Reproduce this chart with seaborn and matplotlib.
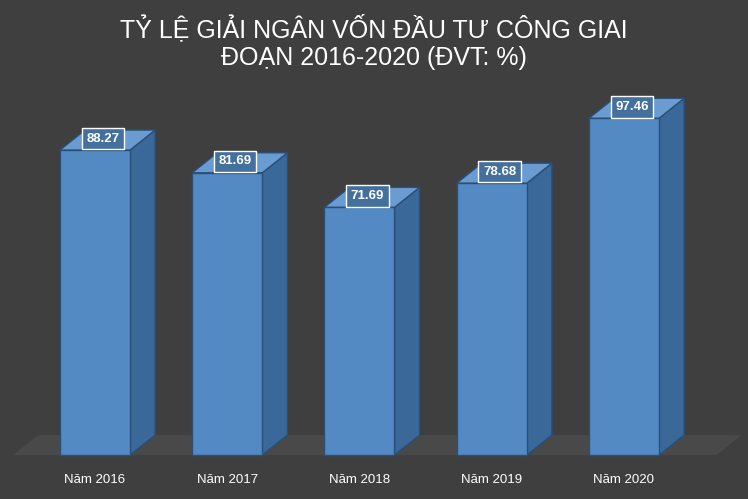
import matplotlib
matplotlib.use("Agg")
import matplotlib.pyplot as plt
import seaborn as sns
import pandas as pd
from matplotlib.patches import Polygon

years = ["Năm 2016", "Năm 2017", "Năm 2018", "Năm 2019", "Năm 2020"]
rates = [88.27, 81.69, 71.69, 78.68, 97.46]
title = "TỶ LỆ GIẢI NGÂN VỐN ĐẦU TƯ CÔNG GIAI\nĐOẠN 2016-2020 (ĐVT: %)"

df = pd.DataFrame({"year": years, "rate": rates})

bg = "#3f3f3f"
front = "#548ac4"
side = "#3a6899"
top = "#6a9cd2"
edge = "#2a4f78"

fig = plt.figure(figsize=(7.48, 4.99), dpi=100, facecolor=bg)
ax = fig.add_axes([0, 0, 1, 1])
ax.set_facecolor(bg)

width = 0.53
dx, dy = 0.19, 5.8

# floor
ax.add_patch(Polygon([(-0.62, 0), (4.7, 0), (4.7 + dx, dy), (-0.62 + dx, dy)],
                     closed=True, facecolor="#494949", edgecolor="none", zorder=0))

sns.barplot(data=df, x="year", y="rate", ax=ax, color=front, width=width,
            edgecolor=edge, linewidth=1, saturation=1, zorder=3)

for i, v in enumerate(rates):
    l, r = i - width / 2, i + width / 2
    ax.add_patch(Polygon([(r, 0), (r + dx, dy), (r + dx, v + dy), (r, v)],
                         closed=True, facecolor=side, edgecolor=edge, lw=1, zorder=2))
    ax.add_patch(Polygon([(l, v), (r, v), (r + dx, v + dy), (l + dx, v + dy)],
                         closed=True, facecolor=top, edgecolor=edge, lw=1, zorder=2))
    ax.text(i + 0.06, v + 3.3, f"{v:.2f}", color="white", fontsize=9.5, fontweight="bold",
            ha="center", va="center", zorder=5, family="Liberation Sans",
            bbox=dict(boxstyle="square,pad=0.35", facecolor="#44709e", edgecolor="white", lw=1))

ax.set_xlim(-0.718, 4.938)
ax.set_ylim(-12.7, 131.7)
ax.set_xticks([])
ax.set_yticks([])
ax.set_xlabel("")
ax.set_ylabel("")
for s in ax.spines.values():
    s.set_visible(False)

for i, y in enumerate(years):
    ax.text(i, -7.3, y, color="white", fontsize=9.5, ha="center", va="center",
            family="Liberation Sans")

fig.text(0.5, 0.915, title, color="white", fontsize=18, ha="center", va="center",
         linespacing=1.2, family="Liberation Sans")

fig.savefig("out.png", dpi=100, facecolor=bg)
